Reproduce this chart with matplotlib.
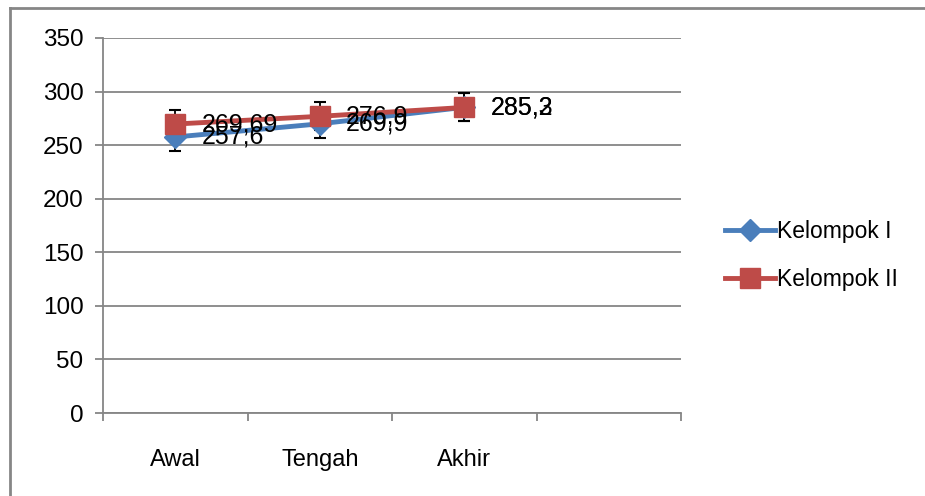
import matplotlib
matplotlib.use('Agg')
import matplotlib.pyplot as plt
from matplotlib.lines import Line2D

categories = ['Awal', 'Tengah', 'Akhir']
kelompok1 = [257.6, 269.9, 285.3]
kelompok2 = [269.69, 276.9, 285.2]
err1 = [13, 13, 13]
err2 = [13, 13, 13]
label1 = ['257,6', '269,9', '285,3']
label2 = ['269,69', '276,9', '285,2']

blue = '#4A7EBB'
red = '#BE4B48'
grey = '#868686'
regular = ['Liberation Sans', 'DejaVu Sans']

fig = plt.figure(figsize=(9.25, 4.96), dpi=100)
ax = fig.add_axes([103 / 925, 1 - 413 / 496, (681 - 103) / 925, (413 - 38) / 496])

x = list(range(len(categories)))

ax.errorbar(x, kelompok1, yerr=err1, fmt='none', ecolor='black', elinewidth=1.3,
            capsize=4, capthick=1.5, zorder=4)
ax.errorbar(x, kelompok2, yerr=err2, fmt='none', ecolor='black', elinewidth=1.3,
            capsize=4, capthick=1.5, zorder=4)
ax.plot(x, kelompok1, color=blue, lw=3.5, marker='D', ms=11, mec=blue, mfc=blue,
        label='Kelompok I', zorder=5)
ax.plot(x, kelompok2, color=red, lw=3.5, marker='s', ms=14, mec=red, mfc=red,
        label='Kelompok II', zorder=6)

for xi, v, t in zip(x, kelompok1, label1):
    ax.annotate(t, (xi, v), xytext=(19, 0), textcoords='offset points', va='center',
                ha='left', fontsize=18, family=regular, zorder=7)
for xi, v, t in zip(x, kelompok2, label2):
    ax.annotate(t, (xi, v), xytext=(19, 0), textcoords='offset points', va='center',
                ha='left', fontsize=18, family=regular, zorder=7)

ax.set_xlim(-0.5, 3.5)
ax.set_ylim(0, 350)
ax.set_yticks(range(0, 351, 50))
ax.grid(axis='y', color=grey, lw=1.3)
ax.set_axisbelow(True)

ax.set_xticks([-0.5, 0.5, 1.5, 2.5, 3.5])
ax.set_xticklabels([])
ax.set_xticks(x, minor=True)
ax.set_xticklabels(categories, minor=True, fontsize=17, family=regular)
ax.tick_params(axis='x', which='major', length=6, width=1.3, color=grey, direction='out')
ax.tick_params(axis='x', which='minor', length=0, pad=26)
ax.tick_params(axis='y', length=6, width=1.3, color=grey, labelsize=17.5, pad=8)
for lab in ax.get_yticklabels():
    lab.set_family(regular)

for s in ['top', 'right']:
    ax.spines[s].set_visible(False)
for s in ['left', 'bottom']:
    ax.spines[s].set_color(grey)
    ax.spines[s].set_linewidth(1.3)

ax.legend(loc='center left', bbox_to_anchor=(1.04, 0.42), frameon=False,
          prop={'family': regular, 'size': 16.5}, handlelength=2.2, handletextpad=0.1,
          labelspacing=1.1)

# chart border
fig.add_artist(Line2D([9.5 / 925, 1], [1 - 8 / 496, 1 - 8 / 496], color=grey, lw=2))
fig.add_artist(Line2D([9.5 / 925, 9.5 / 925], [0, 1 - 8 / 496], color=grey, lw=2))

fig.savefig('out.png', dpi=100, facecolor='white')
